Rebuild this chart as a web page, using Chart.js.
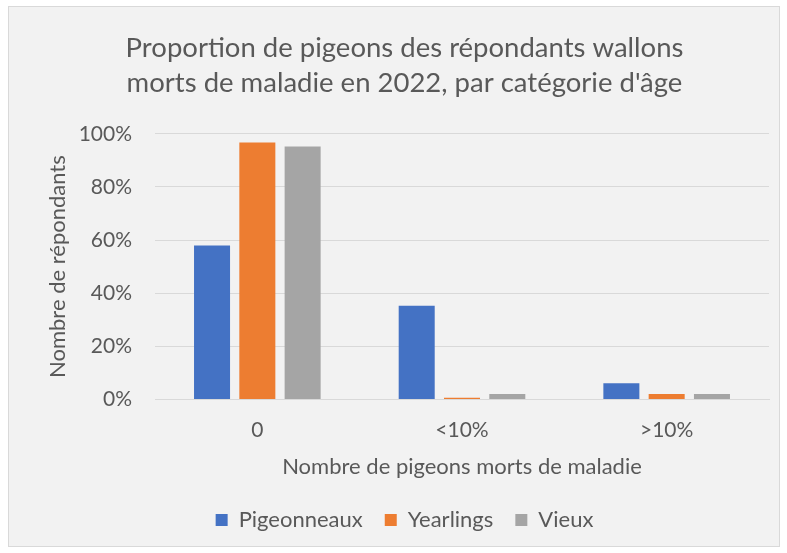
<!DOCTYPE html>
<html><head><meta charset="utf-8">
<script src="https://cdn.jsdelivr.net/npm/chart.js@4"></script>
<style>html,body{margin:0;padding:0;background:#fff}#wrap{width:787px;height:553px;position:relative}</style>
</head><body><div id="wrap"><canvas id="c" width="787" height="553"></canvas></div>
<script>
const categories = ['0', '<10%', '>10%'];
const seriesNames = ['Pigeonneaux', 'Yearlings', 'Vieux'];
const pigeonneaux = [58.0, 35.3, 6.1];
const yearlings = [96.7, 0.6, 2.0];
const vieux = [95.2, 2.0, 2.0];
const yTickValues = [0, 20, 40, 60, 80, 100];
const titleLines = ["Proportion de pigeons des répondants wallons", "morts de maladie en 2022, par catégorie d'âge"];
const xTitle = 'Nombre de pigeons morts de maladie';
const yTitle = 'Nombre de répondants';

const FONT = 'Lato';
const TXT = '#595959';

const bgPlugin = {
  id: 'bg',
  beforeDraw(chart) {
    const ctx = chart.ctx;
    ctx.save();
    ctx.fillStyle = '#ffffff';
    ctx.fillRect(0, 0, chart.width, chart.height);
    ctx.fillStyle = '#f2f2f2';
    ctx.fillRect(8, 6, 772, 541);
    ctx.strokeStyle = '#d9d9d9';
    ctx.lineWidth = 1;
    ctx.strokeRect(8.5, 6.5, 771, 540);
    ctx.restore();
  }
};

new Chart(document.getElementById('c'), {
  type: 'bar',
  data: {
    labels: categories,
    datasets: [
      { label: seriesNames[0], data: pigeonneaux, backgroundColor: '#4472C4' },
      { label: seriesNames[1], data: yearlings, backgroundColor: '#ED7D31' },
      { label: seriesNames[2], data: vieux, backgroundColor: '#A5A5A5' }
    ]
  },
  options: {
    responsive: false,
    animation: false,
    devicePixelRatio: 1,
    categoryPercentage: 0.664,
    barPercentage: 0.795,
    layout: { padding: { left: 40, right: 18, top: 31, bottom: 12 } },
    plugins: {
      title: {
        display: true,
        text: titleLines,
        color: TXT,
        font: { family: FONT, size: 27.5, weight: 'normal', lineHeight: 1.27 },
        padding: { top: 0, bottom: 33 }
      },
      legend: {
        position: 'bottom',
        labels: {
          color: TXT,
          font: { family: FONT, size: 22 },
          boxWidth: 12, boxHeight: 12,
          padding: 22
        }
      },
      tooltip: { enabled: false }
    },
    scales: {
      x: {
        grid: { display: false, drawTicks: false },
        border: { display: true, color: '#d9d9d9', width: 1 },
        ticks: { color: TXT, font: { family: FONT, size: 21 }, padding: 18 },
        title: { display: true, text: xTitle, color: TXT, font: { family: FONT, size: 22 }, padding: { top: -7, bottom: 7 } }
      },
      y: {
        min: 0, max: 100,
        afterBuildTicks(s) { s.ticks = yTickValues.map(v => ({ value: v })); },
        afterFit(s) { s.width = 115; },
        grid: { color: '#d9d9d9', lineWidth: 1, drawTicks: false },
        border: { display: false },
        ticks: { color: TXT, font: { family: FONT, size: 21 }, padding: 23, callback: v => v + '%' },
        title: { display: true, text: yTitle, color: TXT, font: { family: FONT, size: 22 }, padding: { top: 5, bottom: 0 } }
      }
    }
  },
  plugins: [bgPlugin]
});
</script></body></html>
